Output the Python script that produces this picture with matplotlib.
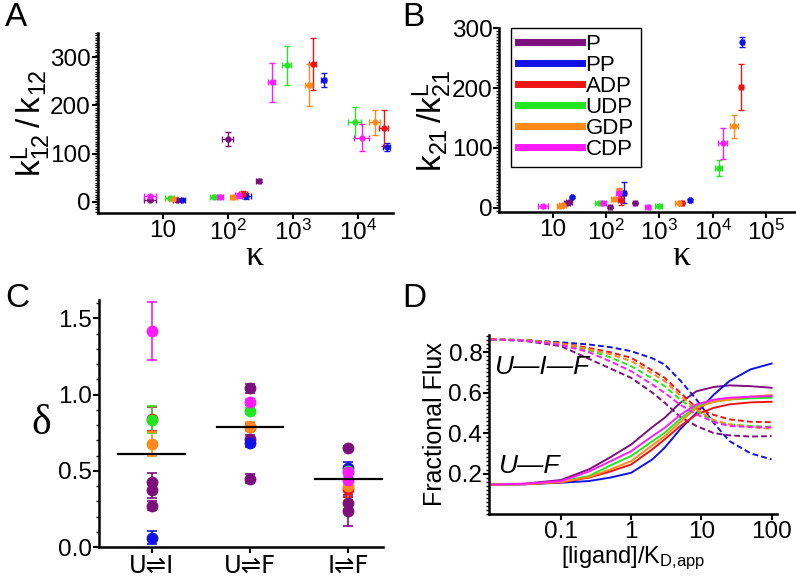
import math
import matplotlib
matplotlib.use("Agg")
import matplotlib.pyplot as plt
import matplotlib.ticker as ticker

plt.rcParams['font.family'] = ['Liberation Sans', 'DejaVu Sans']
plt.rcParams['mathtext.default'] = 'regular'

# ---- shared ----
names = ['P', 'PP', 'ADP', 'UDP', 'GDP', 'CDP']
colors = ['#7d0f7d', '#1212e6', '#ee1414', '#22e622', '#ff8a1a', '#ff1aff']

# ---- panel A: k12L/k12 vs kappa (x, y, xerr, yerr) ----
a_x = {
    'P':   [6.5, 16.7, 101, 300],
    'PP':  [19.9, 195, 3000, 28200],
    'ADP': [172, 2060, 25100],
    'UDP': [12.8, 62, 818, 9200],
    'GDP': [14.4, 123, 1760, 18700],
    'CDP': [6.5, 77, 148, 475, 11700],
}
a_y = {
    'P':   [3, 3.5, 130, 44],
    'PP':  [3, 12, 253, 114],
    'ADP': [17, 286, 153],
    'UDP': [8, 11, 283, 165],
    'GDP': [7, 10, 242, 165],
    'CDP': [12, 11, 14, 248, 133],
}
a_xerr = {
    'P':   [1.4, 2.5, 18, 30],
    'PP':  [2.5, 30, 300, 3300],
    'ADP': [25, 250, 4000],
    'UDP': [2, 8, 120, 2100],
    'GDP': [2, 15, 200, 3600],
    'CDP': [1.4, 9, 20, 60, 3000],
}
a_yerr = {
    'P':   [2, 2, 15, 3],
    'PP':  [2, 6, 15, 9],
    'ADP': [5, 54, 37],
    'UDP': [2, 3, 40, 32],
    'GDP': [2, 3, 43, 26],
    'CDP': [3, 3, 5, 40, 28],
}

# ---- panel B: k21/k21L vs kappa ----
b_x = {
    'P':   [18.6, 20.5, 119, 355],
    'PP':  [23, 220, 3800, 36000],
    'ADP': [190, 2630, 34600],
    'UDP': [73, 970, 12900],
    'GDP': [13.9, 15.4, 143, 178, 2300, 25400],
    'CDP': [6.7, 89, 178, 608, 15800],
}
b_y = {
    'P':   [8, 9.4, 0.5, 8.4],
    'PP':  [18, 25, 12, 277],
    'ADP': [12, 8.4, 202],
    'UDP': [7, 3, 66],
    'GDP': [2, 5, 13.5, 28, 8.4, 136],
    'CDP': [2, 8, 23.6, 1, 108],
}
b_xerr = {
    'P':   [2.5, 2.5, 10, 30],
    'PP':  [1, 15, 200, 2500],
    'ADP': [20, 300, 3000],
    'UDP': [10, 130, 2000],
    'GDP': [2, 2, 20, 15, 300, 4000],
    'CDP': [1.5, 10, 25, 70, 3000],
}
b_yerr = {
    'P':   [2, 2, 1.5, 1.5],
    'PP':  [2, 18, 2, 8],
    'ADP': [8, 1.5, 38],
    'UDP': [1.5, 1.5, 14],
    'GDP': [1, 1, 2, 5, 1.5, 19],
    'CDP': [2, 1.5, 8, 1.5, 26],
}

# ---- panel C: delta per transition ----
c_labels = ['U\u21ccI', 'U\u21ccF', 'I\u21ccF']
c_means = [0.613, 0.789, 0.446]
c_vals = {
    'P':   [[0.426, 0.376, 0.272], [1.04, 0.708, 0.448], [0.652, 0.29, 0.24]],
    'PP':  [[0.064], [0.68], [0.52]],
    'ADP': [[0.84], [0.79], [0.38]],
    'UDP': [[0.836], [0.893], [0.50]],
    'GDP': [[0.676], [0.789], [0.40]],
    'CDP': [[1.418], [0.953], [0.49, 0.44]],
}
c_errs = {
    'P':   [[0.06, 0.05, 0.03], [0.03, 0.03, 0.03], [0.01, 0.04, 0.1]],
    'PP':  [[0.04], [0.02], [0.04]],
    'ADP': [[0.08], [0.02], [0.05]],
    'UDP': [[0.09], [0.02], [0.03]],
    'GDP': [[0.08], [0.03], [0.1]],
    'CDP': [[0.19], [0.02], [0.04, 0.05]],
}

# ---- panel D: fractional flux vs ligand ----
d_x = [0.01, 0.03, 0.1, 0.25, 0.5, 1.0, 2.0, 3.0, 5.0, 8.5, 15, 25, 50, 100]
d_uf = {
    'P':   [0.146, 0.150, 0.168, 0.221, 0.280, 0.344, 0.430, 0.476, 0.550, 0.607, 0.628, 0.636, 0.632, 0.624],
    'PP':  [0.146, 0.147, 0.155, 0.163, 0.180, 0.204, 0.270, 0.328, 0.420, 0.500, 0.590, 0.657, 0.715, 0.744],
    'ADP': [0.146, 0.147, 0.157, 0.180, 0.210, 0.245, 0.320, 0.369, 0.435, 0.492, 0.525, 0.542, 0.552, 0.555],
    'UDP': [0.146, 0.148, 0.160, 0.188, 0.240, 0.287, 0.360, 0.402, 0.470, 0.533, 0.555, 0.566, 0.572, 0.575],
    'GDP': [0.146, 0.148, 0.158, 0.183, 0.220, 0.262, 0.340, 0.385, 0.455, 0.525, 0.555, 0.566, 0.580, 0.588],
    'CDP': [0.146, 0.149, 0.163, 0.210, 0.260, 0.311, 0.385, 0.426, 0.490, 0.542, 0.565, 0.575, 0.580, 0.583],
}
d_uif = {
    'P':   [0.863, 0.856, 0.830, 0.767, 0.720, 0.673, 0.600, 0.550, 0.480, 0.435, 0.400, 0.389, 0.383, 0.385],
    'PP':  [0.863, 0.860, 0.849, 0.838, 0.825, 0.805, 0.770, 0.739, 0.660, 0.566, 0.450, 0.361, 0.300, 0.270],
    'ADP': [0.863, 0.860, 0.845, 0.821, 0.800, 0.772, 0.710, 0.673, 0.600, 0.525, 0.490, 0.468, 0.456, 0.454],
    'UDP': [0.863, 0.860, 0.840, 0.810, 0.775, 0.731, 0.670, 0.632, 0.565, 0.509, 0.460, 0.443, 0.435, 0.431],
    'GDP': [0.863, 0.860, 0.843, 0.815, 0.790, 0.756, 0.695, 0.657, 0.585, 0.517, 0.465, 0.443, 0.430, 0.421],
    'CDP': [0.863, 0.858, 0.836, 0.800, 0.755, 0.706, 0.640, 0.599, 0.540, 0.492, 0.455, 0.435, 0.430, 0.428],
}

TICK_FS = 17.5
SERIF = ['Liberation Serif', 'DejaVu Serif']


def style_axes(ax):
    for side in ['top', 'right']:
        ax.spines[side].set_visible(False)
    for side in ['left', 'bottom']:
        ax.spines[side].set_linewidth(1.8)
    ax.tick_params(which='major', direction='out', length=4, width=1.5, labelsize=TICK_FS, pad=1)
    ax.tick_params(which='minor', direction='out', length=2, width=1.0)
    ax.tick_params(axis='x', which='minor', bottom=False)


def kappa_fmt(x, _):
    e = int(round(math.log10(x)))
    return '10' if e == 1 else r'$\mathregular{10^{%d}}$' % e


fig = plt.figure(figsize=(7.96, 5.78), dpi=100)

# ---------- A ----------
ax = fig.add_axes([0.1227, 0.6315, 0.371, 0.3114])
for n, c in zip(names, colors):
    ax.errorbar(a_x[n], a_y[n], xerr=a_xerr[n], yerr=a_yerr[n], fmt='o', ms=3.5,
                color=c, ecolor=c, elinewidth=1, capsize=2, capthick=1)
ax.set_xscale('log')
ax.set_xlim(1.0, 3.5e4)
ax.set_ylim(-23, 350)
ax.xaxis.set_major_locator(ticker.FixedLocator([10, 100, 1000, 10000]))
ax.xaxis.set_major_formatter(ticker.FuncFormatter(kappa_fmt))
ax.xaxis.set_minor_locator(ticker.NullLocator())
ax.yaxis.set_major_locator(ticker.MultipleLocator(100))
ax.yaxis.set_minor_locator(ticker.MultipleLocator(5))
style_axes(ax)
ax.set_xlabel('\u03ba', fontsize=26, family=SERIF, labelpad=0)
ax.xaxis.set_label_coords(0.53, -0.15)
ax.set_ylabel(r'$\mathregular{k^{L}_{12}\,/\,k_{12}}$', fontsize=24, labelpad=-2)
fig.text(0.006, 0.955, 'A', fontsize=24)

# ---------- B ----------
ax = fig.add_axes([0.6273, 0.6327, 0.3715, 0.318])
for n, c in zip(names, colors):
    ax.errorbar(b_x[n], b_y[n], xerr=b_xerr[n], yerr=b_yerr[n], fmt='o', ms=3.5,
                color=c, ecolor=c, elinewidth=1, capsize=2, capthick=1)
ax.set_xscale('log')
ax.set_xlim(1.0, 3.5e5)
ax.set_ylim(-8, 300)
ax.xaxis.set_major_locator(ticker.FixedLocator([10, 100, 1000, 10000, 100000]))
ax.xaxis.set_major_formatter(ticker.FuncFormatter(kappa_fmt))
ax.xaxis.set_minor_locator(ticker.NullLocator())
ax.yaxis.set_major_locator(ticker.MultipleLocator(100))
ax.yaxis.set_minor_locator(ticker.MultipleLocator(5))
style_axes(ax)
ax.set_xlabel('\u03ba', fontsize=26, family=SERIF, labelpad=0)
ax.xaxis.set_label_coords(0.615, -0.15)
ax.set_ylabel(r'$\mathregular{k_{21}\,/k^{L}_{21}}$', fontsize=24, labelpad=-2)
handles = [plt.Line2D([], [], color=c, lw=5) for c in colors]
leg = ax.legend(handles, names, loc='upper left', bbox_to_anchor=(0.04, 1.005),
                fontsize=16, handlelength=2.9, handletextpad=0.15, labelspacing=0.0,
                borderpad=0.3, borderaxespad=0, fancybox=False, edgecolor='black',
                framealpha=1)
leg.get_frame().set_linewidth(1.0)
fig.text(0.505, 0.955, 'B', fontsize=24)

# ---------- C ----------
ax = fig.add_axes([0.1247, 0.0531, 0.356, 0.428])
for n, c in zip(names, colors):
    for i in range(3):
        vals = c_vals[n][i]
        ax.errorbar([i] * len(vals), vals, yerr=c_errs[n][i], fmt='o', ms=7.5,
                    color=c, ecolor=c, elinewidth=1.2, capsize=3.5, capthick=1.2)
for i, m in enumerate(c_means):
    ax.plot([i - 0.34, i + 0.34], [m, m], color='black', lw=1.6, zorder=5)
ax.set_xlim(-0.533, 2.35)
ax.set_ylim(0, 1.62)
ax.set_xticks([0, 1, 2])
ax.set_xticklabels(c_labels, family=['DejaVu Sans'], fontsize=16)
ax.yaxis.set_major_locator(ticker.MultipleLocator(0.5))
ax.yaxis.set_minor_locator(ticker.MultipleLocator(0.1))
ax.yaxis.set_major_formatter(ticker.FormatStrFormatter('%.1f'))
style_axes(ax)
ax.set_ylabel('\u03b4', fontsize=30, family=SERIF, rotation=0, labelpad=12, va='center')
fig.text(0.006, 0.468, 'C', fontsize=24)

# ---------- D ----------
ax = fig.add_axes([0.6147, 0.1107, 0.361, 0.3097])
for n, c in zip(names, colors):
    ax.plot(d_x, d_uf[n], color=c, lw=1.4)
    ax.plot(d_x, d_uif[n], color=c, lw=1.4, linestyle=(0, (3, 1.6)))
ax.set_xscale('log')
ax.set_xlim(0.0095, 118)
ax.set_ylim(0, 0.885)
ax.xaxis.set_major_locator(ticker.FixedLocator([0.1, 1, 10, 100]))
ax.xaxis.set_major_formatter(ticker.FixedFormatter(['0.1', '1', '10', '100']))
ax.xaxis.set_minor_locator(ticker.NullLocator())
ax.yaxis.set_major_locator(ticker.FixedLocator([0.2, 0.4, 0.6, 0.8]))
ax.yaxis.set_minor_locator(ticker.MultipleLocator(0.02))
ax.yaxis.set_major_formatter(ticker.FormatStrFormatter('%.1f'))
style_axes(ax)
ax.text(0.0112, 0.728, 'U\u2014I\u2014F', fontsize=19, style='italic', va='center')
ax.text(0.0128, 0.237, 'U\u2014F', fontsize=19, style='italic', va='center')
ax.set_ylabel('Fractional Flux', fontsize=18, labelpad=1)
ax.set_xlabel(r'[ligand]/K$_{\mathregular{D{,}app}}$', fontsize=17, labelpad=1)
fig.text(0.505, 0.468, 'D', fontsize=24)

fig.savefig('out.png', dpi=100)
